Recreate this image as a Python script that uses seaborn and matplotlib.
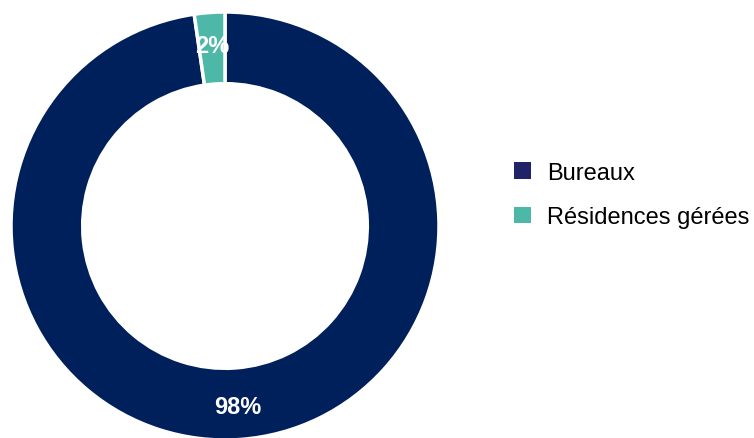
import matplotlib
matplotlib.use("Agg")
import matplotlib.pyplot as plt
import seaborn as sns
from matplotlib.patches import Patch

# data
categories = ["Bureaux", "Résidences gérées"]
shares = [97.7, 2.3]
slice_colors = ["#00205C", "#4DB8A8"]
legend_colors = ["#1F2468", "#4DB8A8"]

sns.set_theme(style="white")
plt.rcParams["font.family"] = ["Liberation Sans", "DejaVu Sans"]

fig = plt.figure(figsize=(7.54, 4.39), dpi=100)
ax = fig.add_axes([11 / 754, -2 / 439, 428 / 754, 428 / 439])

wedges, texts, autotexts = ax.pie(
    shares, colors=slice_colors, startangle=90, counterclock=False,
    radius=1.0, autopct=lambda p: f"{p:.0f}%", pctdistance=0.845,
    wedgeprops=dict(width=0.335, edgecolor="white", linewidth=2.5),
    textprops=dict(color="white", fontsize=17, fontweight="bold"))
ax.set_xlim(-1, 1)
ax.set_ylim(-1, 1)
ax.set_aspect("equal")
for w in wedges:
    w.set_clip_on(False)

handles = [Patch(facecolor=c, edgecolor="none") for c in legend_colors]
leg = fig.legend(handles, categories, loc="upper left",
                 bbox_to_anchor=(514 / 754, 1 - 163 / 439), frameon=False,
                 fontsize=17, handlelength=0.7, handleheight=0.7,
                 handletextpad=0.7, labelspacing=0.95, borderpad=0,
                 borderaxespad=0)
for t in leg.get_texts():
    t.set_color("black")

fig.savefig("out.png", dpi=100)
